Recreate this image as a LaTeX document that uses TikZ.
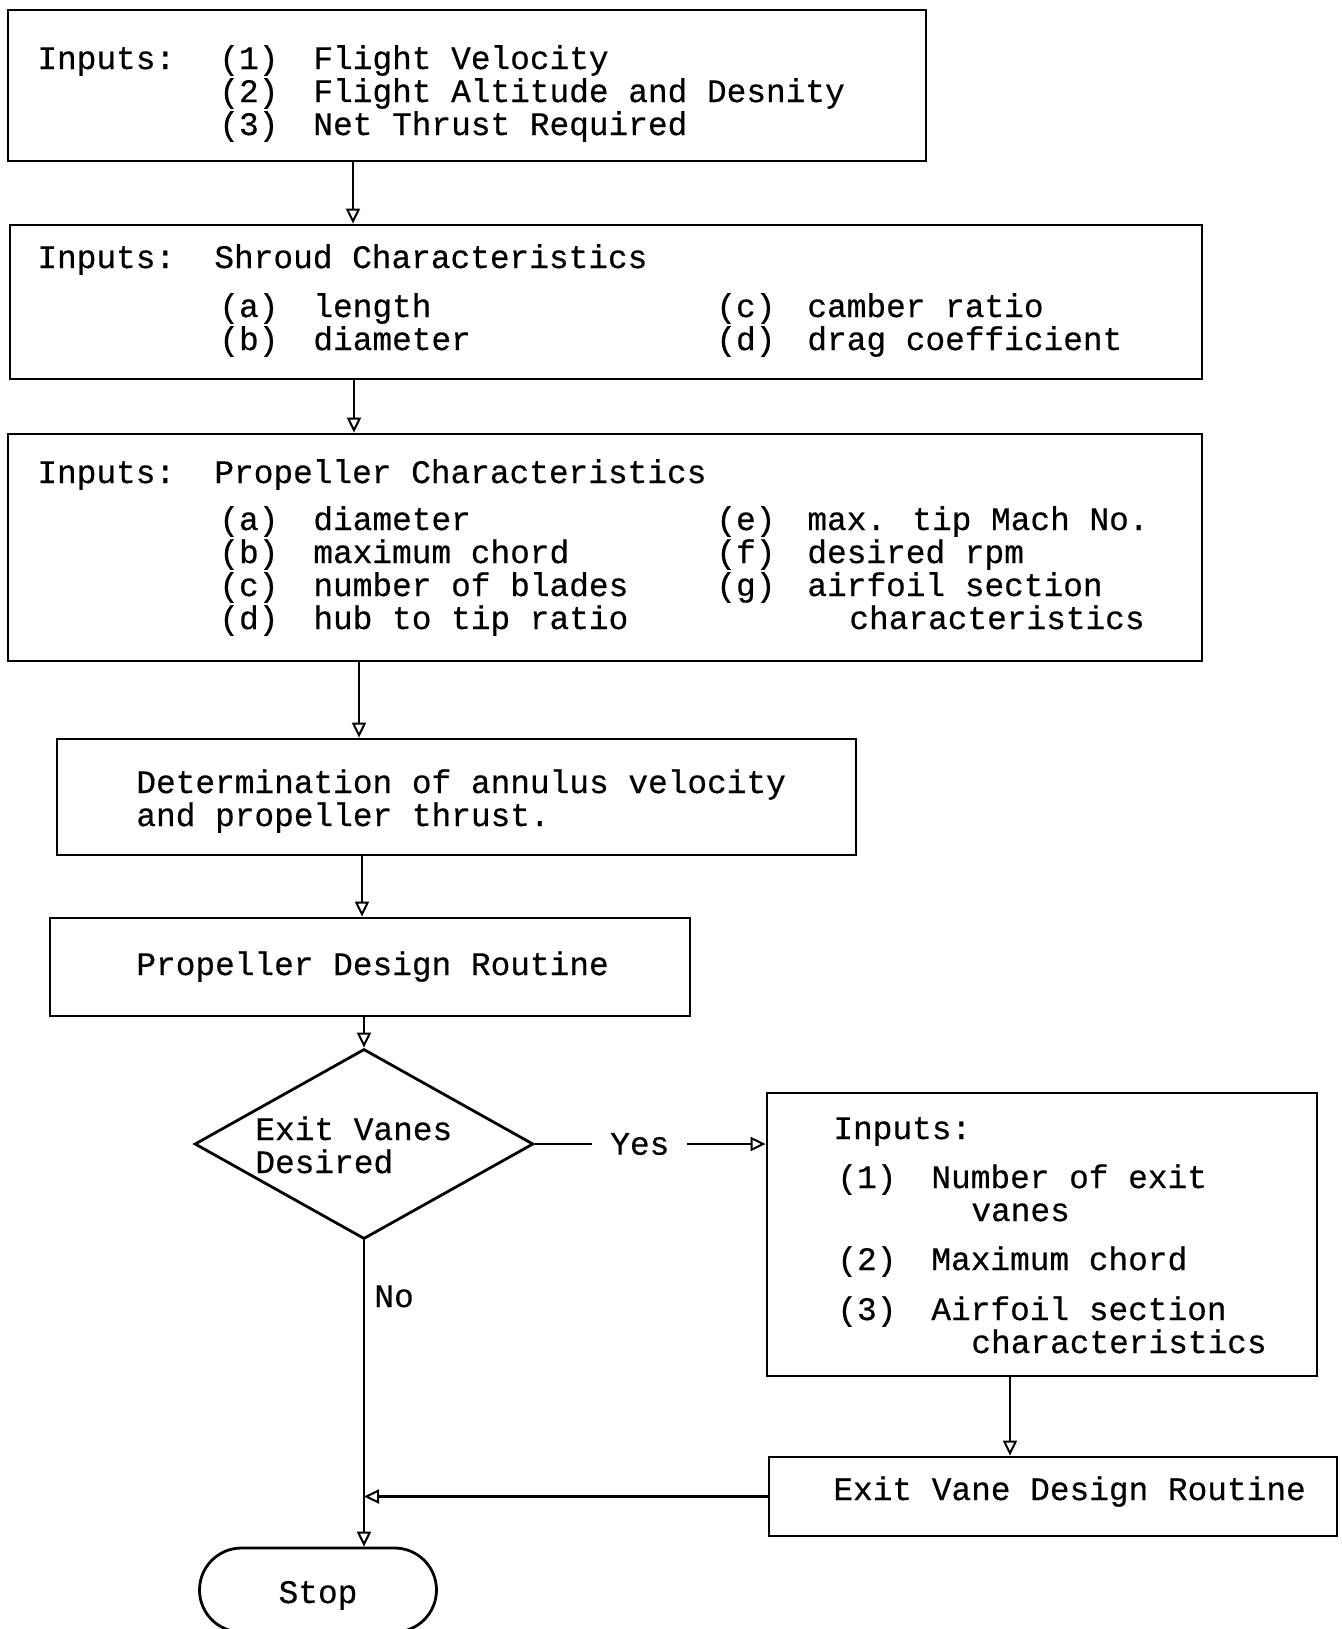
\documentclass[tikz,border=0pt]{standalone}
\usepackage{fontspec}
\setmainfont{Liberation Mono}[FakeBold=0.5]
\usetikzlibrary{arrows.meta,fit,shapes.geometric}
\begin{document}
\begin{tikzpicture}[x=0.5pt,y=-0.5pt,
  box/.style={draw, line width=1.4pt, inner sep=0pt},
  txt/.style={anchor=base west, inner sep=0pt, font=\fontsize{16.4}{16.6}\selectfont},
  arr/.style={line width=1.1pt, -{Triangle[open,length=7.5pt,width=7pt,line width=1pt]}}]
\useasboundingbox (0,0) rectangle (1342,1629);
\fill[white] (0,0) rectangle (1342,1629);

% boxes
\node[box, fit={(8,10)(926,161)}] (b1) {};
\node[box, fit={(10,225)(1202,379)}] (b2) {};
\node[box, fit={(8,434)(1202,661)}] (b3) {};
\node[box, fit={(57,739)(856,855)}] (b4) {};
\node[box, fit={(50,918)(690,1016)}] (b5) {};
\node[box, diamond, minimum width=169.4pt, minimum height=95pt] (dia) at (364,1144) {};
\node[box, fit={(767,1093)(1317,1376)}] (b6) {};
\node[box, fit={(769,1457)(1337,1536)}] (b7) {};
\node[draw, line width=1.4pt, rounded corners=21pt, minimum width=118.5pt, minimum height=42pt,
      text depth=0pt, yshift=0pt, font=\fontsize{16.4}{16.6}\selectfont] (stop) at (318,1590) {\raisebox{-2pt}{Stop}};

% box 1 text
\node[txt] (t1a) at (37,69) {Inputs:};
\node[txt] (t1b) at (219,69) {(1)};
\node[txt] (t1c) at (313,69) {Flight Velocity};
\node[txt] (t1d) at (219,102) {(2)};
\node[txt] (t1e) at (313,102) {Flight Altitude and Desnity};
\node[txt] (t1f) at (219,135) {(3)};
\node[txt] (t1g) at (313,135) {Net Thrust Required};

% box 2 text
\node[txt] (t2a) at (37,268) {Inputs:};
\node[txt] (t2b) at (214,268) {Shroud Characteristics};
\node[txt] (t2c) at (219,317) {(a)};
\node[txt] (t2d) at (313,317) {length};
\node[txt] (t2e) at (716,317) {(c)};
\node[txt] (t2f) at (807,317) {camber ratio};
\node[txt] (t2g) at (219,350) {(b)};
\node[txt] (t2h) at (313,350) {diameter};
\node[txt] (t2i) at (716,350) {(d)};
\node[txt] (t2j) at (807,350) {drag coefficient};

% box 3 text
\node[txt] (t3a) at (37,483) {Inputs:};
\node[txt] (t3b) at (214,483) {Propeller Characteristics};
\node[txt] (t3c) at (219,530) {(a)};
\node[txt] (t3d) at (313,530) {diameter};
\node[txt] (t3e) at (716,530) {(e)};
\node[txt] (t3f) at (807,530) {max. tip Mach No.};
\node[txt] (t3g) at (219,563) {(b)};
\node[txt] (t3h) at (313,563) {maximum chord};
\node[txt] (t3i) at (716,563) {(f)};
\node[txt] (t3j) at (807,563) {desired rpm};
\node[txt] (t3k) at (219,596) {(c)};
\node[txt] (t3l) at (313,596) {number of blades};
\node[txt] (t3m) at (716,596) {(g)};
\node[txt] (t3n) at (807,596) {airfoil section};
\node[txt] (t3o) at (219,629) {(d)};
\node[txt] (t3p) at (313,629) {hub to tip ratio};
\node[txt] (t3q) at (849,629) {characteristics};

% box 4, 5 text
\node[txt] (t4a) at (136,793) {Determination of annulus velocity};
\node[txt] (t4b) at (136,826) {and propeller thrust.};
\node[txt] (t5a) at (136,975) {Propeller Design Routine};

% diamond text
\node[txt] (tda) at (255,1140) {Exit Vanes};
\node[txt] (tdb) at (255,1173) {Desired};

% box 6 text
\node[txt] (t6a) at (833,1139) {Inputs:};
\node[txt] (t6b) at (837,1188) {(1)};
\node[txt] (t6c) at (931,1188) {Number of exit};
\node[txt] (t6d) at (971,1221) {vanes};
\node[txt] (t6e) at (837,1270) {(2)};
\node[txt] (t6f) at (931,1270) {Maximum chord};
\node[txt] (t6g) at (837,1320) {(3)};
\node[txt] (t6h) at (931,1320) {Airfoil section};
\node[txt] (t6i) at (971,1353) {characteristics};

% box 7 text
\node[txt] (t7a) at (833,1500) {Exit Vane Design Routine};

% column coordinates
\coordinate (c1) at (353,0);
\coordinate (c2) at (354,0);
\coordinate (c3) at (359,0);
\coordinate (c4) at (362,0);
\coordinate (c6) at (1010,0);

% connectors
\draw[arr] (b1.south -| c1) -- (b2.north -| c1);
\draw[arr] (b2.south -| c2) -- (b3.north -| c2);
\draw[arr] (b3.south -| c3) -- (b4.north -| c3);
\draw[arr] (b4.south -| c4) -- (b5.north -| c4);
\draw[arr] (b5.south -| dia.north) -- (dia.north);
\draw[arr] (dia.east) -- node[pos=0.455, fill=white, inner xsep=9pt, inner ysep=2pt,
      font=\fontsize{16.4}{16.6}\selectfont] (yes) {Yes} (dia.east -| b6.west);
\draw[arr] (b6.south -| c6) -- (b7.north -| c6);
\draw[arr] (dia.south) -- (dia.south |- stop.north);
\draw[arr] (b7.west) -- (b7.west -| dia.south);
\node[txt] (no) at (374,1307) {No};
\end{tikzpicture}
\end{document}
